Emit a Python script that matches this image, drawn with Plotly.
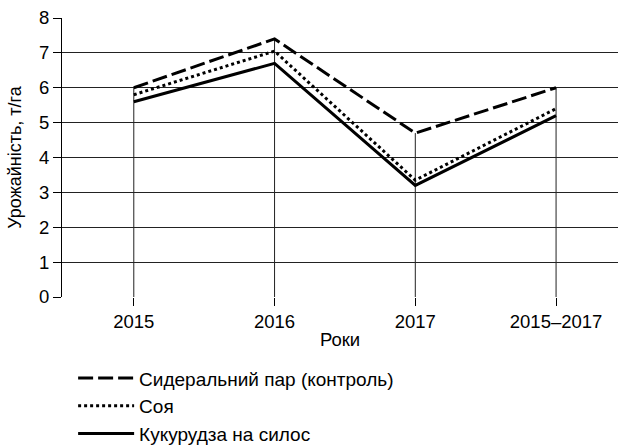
import plotly.graph_objects as go

categories = ["2015", "2016", "2017", "2015–2017"]
sideral = [6.0, 7.4, 4.7, 6.0]
soya = [5.8, 7.05, 3.35, 5.4]
corn = [5.6, 6.7, 3.2, 5.2]
series_names = ["Сидеральний пар (контроль)", "Соя", "Кукурудза на силос"]
y_ticks = [0, 1, 2, 3, 4, 5, 6, 7, 8]

xpos = list(range(len(categories)))
font = dict(family="Liberation Sans, Arial, sans-serif", size=18, color="black")

fig = go.Figure()
# drop lines from top value to axis
tops = [max(a, b, c) for a, b, c in zip(sideral, soya, corn)]
for x, t in zip(xpos, tops):
    fig.add_shape(type="line", x0=x, x1=x, y0=0, y1=t, xref="x", yref="y",
                  line=dict(color="#222", width=1), layer="below")

fig.add_trace(go.Scatter(x=xpos, y=sideral, mode="lines", name=series_names[0],
                         line=dict(color="black", width=3, dash="15px,5px")))
fig.add_trace(go.Scatter(x=xpos, y=soya, mode="lines", name=series_names[1],
                         line=dict(color="black", width=3, dash="3px,3px")))
fig.add_trace(go.Scatter(x=xpos, y=corn, mode="lines", name=series_names[2],
                         line=dict(color="black", width=3)))

fig.update_layout(
    width=618, height=447,
    margin=dict(l=62, r=0, t=18, b=150, autoexpand=False),
    plot_bgcolor="white", paper_bgcolor="white",
    font=font,
    showlegend=True,
    legend=dict(orientation="v", x=0.02, xanchor="left", y=-0.56, yanchor="bottom",
                font=dict(size=19), tracegroupgap=0, itemwidth=56,
                bgcolor="rgba(0,0,0,0)"),
)
fig.update_xaxes(
    range=[-0.51, 3.44], tickvals=xpos, ticktext=categories,
    showgrid=False, zeroline=False, showline=False, automargin=False,
    ticks="outside", ticklen=8, tickcolor="black", tickwidth=1,
    title=dict(text="Роки", standoff=1, font=dict(size=18.5)),
    tickfont=dict(size=18.5),
)
fig.update_yaxes(
    range=[0, 8], tickvals=y_ticks, automargin=False,
    showgrid=True, gridcolor="#222", gridwidth=1,
    zeroline=False, showline=True, linecolor="black", linewidth=1,
    ticks="outside", ticklen=8, tickcolor="black",
    title=dict(text="Урожайність, т/га", standoff=12, font=dict(size=18)),
    tickfont=dict(size=18.5),
)
# extra left tick below the axis
fig.add_shape(type="line", xref="paper", yref="y", x0=0, x1=0, y0=0, y1=-0.23,
              line=dict(color="black", width=1))

fig.write_html("out.html", config={"displayModeBar": False},
               post_script="document.body.style.margin='0';")
